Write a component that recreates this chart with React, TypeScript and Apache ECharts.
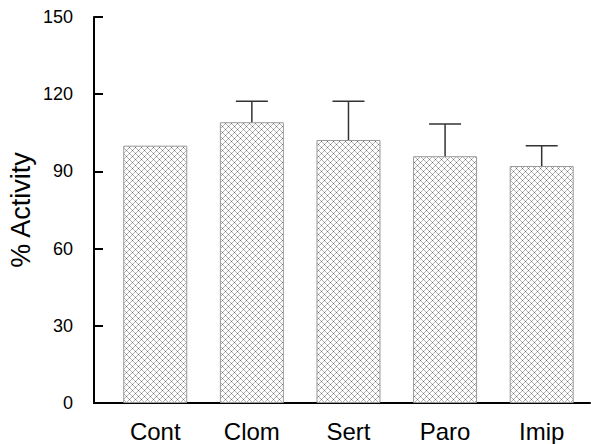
import React, { useEffect, useRef } from "react";
import * as echarts from "echarts";

const categories = ["Cont", "Clom", "Sert", "Paro", "Imip"];
const means = [100, 109.1, 102.2, 95.9, 92.1];
const upperErrors = [0, 8.2, 15.1, 12.5, 7.9];
const yTicks = [0, 30, 60, 90, 120, 150];
const yTitle = "% Activity";

function makeHatch(): HTMLCanvasElement {
  const size = 6;
  const c = document.createElement("canvas");
  c.width = size;
  c.height = size;
  const ctx = c.getContext("2d")!;
  const img = ctx.createImageData(size, size);
  for (let y = 0; y < size; y++) {
    for (let x = 0; x < size; x++) {
      const a = ((x - y) % size + size) % size === 0;
      const b = (x + y) % size === 0;
      let v = 255;
      if (a && b) v = 110;
      else if (a || b) v = 180;
      const i = (y * size + x) * 4;
      img.data[i] = v;
      img.data[i + 1] = v;
      img.data[i + 2] = v;
      img.data[i + 3] = 255;
    }
  }
  ctx.putImageData(img, 0, 0);
  return c;
}

export default function App() {
  const ref = useRef<HTMLDivElement>(null);
  useEffect(() => {
    const chart = echarts.init(ref.current!, null, { renderer: "svg" });
    const hatch = makeHatch();
    const font = '"Liberation Sans", Arial, Helvetica, sans-serif';
    const barData = categories.map((_, i) => [i, means[i]]);
    const errData = categories
      .map((_, i) => [i, means[i], means[i] + upperErrors[i]])
      .filter((d) => d[2] > d[1]);
    chart.setOption({
      animation: false,
      backgroundColor: "#fff",
      textStyle: { fontFamily: font },
      grid: { left: 94, right: 1, top: 17, bottom: 41, outerBoundsMode: "none", containLabel: false },
      xAxis: {
        type: "value",
        min: -0.634,
        max: 4.5,
        splitLine: { show: false },
        axisLine: { show: true, onZero: false, lineStyle: { color: "#000", width: 2 } },
        axisTick: { show: false },
        axisLabel: {
          customValues: [0, 1, 2, 3, 4],
          formatter: (v: number) => categories[Math.round(v)] ?? "",
          fontSize: 24,
          color: "#000",
          margin: 16,
          fontFamily: font,
        },
      },
      yAxis: {
        type: "value",
        min: yTicks[0],
        max: yTicks[yTicks.length - 1],
        interval: 30,
        splitLine: { show: false },
        axisLine: { show: true, onZero: false, lineStyle: { color: "#000", width: 2 } },
        axisTick: { show: true, inside: true, length: 9, lineStyle: { color: "#000", width: 2 } },
        axisLabel: { fontSize: 18, color: "#000", margin: 21, fontFamily: font },
        name: yTitle,
        nameLocation: "middle",
        nameRotate: 90,
        nameGap: 60,
        nameMoveOverlap: false,
        nameTextStyle: { fontSize: 27, color: "#000", fontFamily: font },
      },
      series: [
        {
          type: "bar",
          data: barData,
          barWidth: 64,
          itemStyle: {
            color: { image: hatch, repeat: "repeat", imageWidth: 6, imageHeight: 6 },
            borderColor: "#9a9a9a",
            borderWidth: 1,
          },
          z: 2,
        },
        {
          type: "custom",
          data: errData,
          z: 3,
          renderItem: (params: any, api: any) => {
            const x = api.value(0);
            const base = api.coord([x, api.value(1)]);
            const top = api.coord([x, api.value(2)]);
            const half = 16;
            const style = { stroke: "#333", lineWidth: 1.5 };
            return {
              type: "group",
              children: [
                { type: "line", shape: { x1: base[0], y1: base[1], x2: top[0], y2: top[1] }, style },
                { type: "line", shape: { x1: top[0] - half, y1: top[1], x2: top[0] + half, y2: top[1] }, style },
              ],
            };
          },
        },
      ],
    });
    return () => chart.dispose();
  }, []);
  return (
    <div
      ref={ref}
      style={{ position: "fixed", left: 0, top: 0, width: 591, height: 444 }}
    />
  );
}
